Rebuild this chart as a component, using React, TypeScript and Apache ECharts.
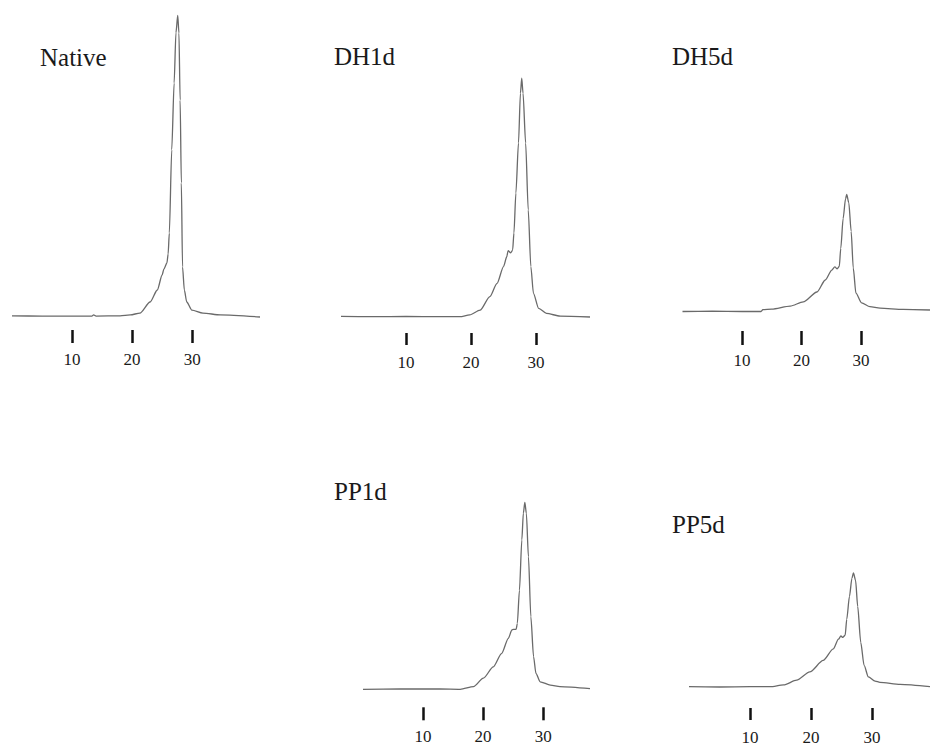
import React, { useEffect, useRef } from "react";
import * as echarts from "echarts";

// ---- data ----
const panelNames = ["Native", "DH1d", "DH5d", "PP1d", "PP5d"];
const tickValues = [10, 20, 30];

const nativeX = [0, 5, 10, 13.3, 13.6, 14, 18, 19.7, 21.3, 23.0, 24.2, 25.0, 25.3, 25.8, 26.0, 26.2, 26.6, 27.0, 27.3, 27.6, 27.8, 28.0, 28.2, 28.4, 28.7, 29.1, 29.95, 31.8, 34.7, 41.3];
const nativeY = [0.4, 0.3, 0.3, 0.3, 0.7, 0.3, 0.4, 0.7, 1.3, 5, 9, 14, 16, 18, 21, 28, 55.7, 78, 94.7, 100.5, 94.7, 72.3, 44.7, 16.7, 9, 5, 2.3, 1.3, 0.7, 0];

const dh1dX = [0, 5, 10, 15.2, 18.3, 19.8, 21.4, 22.9, 24.0, 25.0, 25.5, 25.7, 26.1, 26.4, 26.6, 26.9, 27.3, 27.6, 27.8, 28.0, 28.4, 28.8, 29.2, 29.6, 30.4, 31.6, 33.7, 38.3];
const dh1dY = [0.2, 0.1, 0.2, 0.1, 0.1, 0.7, 2.3, 6.8, 11.2, 16.8, 20.1, 22.1, 21.4, 22.3, 28, 41.3, 58, 74.6, 79.6, 74.6, 58, 35.7, 16.8, 7.9, 2.9, 1.2, 0.3, 0];

const dh5dX = [0, 5, 10, 13.2, 13.5, 15, 18.1, 20.3, 22.6, 24.0, 25.1, 25.6, 26.0, 26.35, 26.6, 27.0, 27.4, 27.6, 27.95, 28.35, 28.7, 29.15, 30.1, 31.5, 33.2, 37.1, 41.6];
const dh5dY = [0, 0.1, 0, 0, 0.6, 0.8, 1.8, 3.2, 6.5, 10.5, 13.8, 14.9, 14.2, 15.0, 21, 31, 37.5, 39, 36.3, 26.7, 14.5, 6.1, 2.9, 1.6, 1.1, 0.7, 0.5];

const pp1dX = [0, 6.2, 12.8, 16.2, 18.4, 20.05, 21.7, 23.1, 24.2, 24.8, 25.05, 25.5, 25.7, 26.05, 26.45, 26.7, 26.95, 27.2, 27.55, 27.95, 28.4, 28.8, 29.5, 31.2, 32.8, 37.8];
const pp1dY = [0, 0.1, 0.1, 0, 0.9, 3.7, 7.5, 12, 17, 19.8, 20, 20, 22, 33, 49.8, 58.7, 62.3, 58.7, 44.2, 24.2, 10.9, 5.3, 2.5, 1.4, 0.9, 0.2];

const pp5dX = [0, 5, 10, 13.3, 15.5, 17.65, 19.8, 22.0, 23.65, 24.5, 24.9, 25.2, 25.6, 25.85, 26.3, 26.7, 26.95, 27.3, 27.65, 28.15, 28.7, 29.4, 30.5, 31.3, 34.6, 39.5];
const pp5dY = [0.1, 0, 0.1, 0.1, 0.7, 2.3, 5.1, 9, 12.9, 16.2, 17.3, 16.8, 17.6, 22.9, 30.7, 36.8, 38.7, 36.2, 27.3, 15.1, 7.3, 3.4, 2, 1.6, 0.9, 0.1];

const seriesX = [nativeX, dh1dX, dh5dX, pp1dX, pp5dX];
const seriesY = [nativeY, dh1dY, dh5dY, pp1dY, pp5dY];

// ---- layout (pixels) ----
const layouts = [
  { left: 12, width: 248, xMax: 41.3, baseline: 317, offset: 13, tickLen: 13, margin: 21, tx: 40, ty: 57 },
  { left: 341, width: 249, xMax: 38.3, baseline: 317, offset: 16, tickLen: 12, margin: 21, tx: 334, ty: 56 },
  { left: 682.5, width: 247.5, xMax: 41.6, baseline: 311.5, offset: 19.5, tickLen: 14, margin: 21, tx: 672, ty: 56 },
  { left: 363, width: 227, xMax: 37.8, baseline: 689.3, offset: 18, tickLen: 13, margin: 21, tx: 334, ty: 491 },
  { left: 689, width: 241, xMax: 39.5, baseline: 692, offset: 21, tickLen: 12, margin: 21, tx: 672, ty: 524 },
];
const PLOT_H = 300;
const Y_MAX = 100;
const SERIF = "'Liberation Serif', 'Times New Roman', serif";

export default function App() {
  const ref = useRef<HTMLDivElement>(null);
  useEffect(() => {
    if (!ref.current) return;
    const chart = echarts.init(ref.current, null, { renderer: "svg" });
    const grid = layouts.map((l) => ({
      left: l.left,
      top: l.baseline - PLOT_H,
      width: l.width,
      height: PLOT_H,
      containLabel: false,
    }));
    const xAxis = layouts.map((l, i) => ({
      type: "value",
      gridIndex: i,
      min: 0,
      max: l.xMax,
      position: "bottom",
      offset: l.offset,
      axisLine: { show: false, onZero: false },
      splitLine: { show: false },
      axisTick: {
        show: true,
        customValues: tickValues,
        length: l.tickLen,
        lineStyle: { color: "#111", width: 2.5 },
      },
      axisLabel: {
        customValues: tickValues,
        margin: l.margin,
        fontFamily: SERIF,
        fontSize: 17,
        color: "#1a1a1a",
      },
    }));
    const yAxis = layouts.map((_, i) => ({
      type: "value",
      gridIndex: i,
      min: 0,
      max: Y_MAX,
      show: false,
    }));
    const series = seriesX.map((xs, i) => ({
      type: "line",
      name: panelNames[i],
      xAxisIndex: i,
      yAxisIndex: i,
      data: xs.map((x, j) => [x, seriesY[i][j]]),
      showSymbol: false,
      smooth: 0.25,
      smoothMonotone: "x",
      clip: false,
      lineStyle: { color: "#6a6a6a", width: 1.3 },
    }));
    const graphic = layouts.map((l, i) => ({
      type: "text",
      x: l.tx,
      y: l.ty,
      style: {
        text: panelNames[i],
        fontFamily: SERIF,
        fontSize: 25,
        fill: "#1a1a1a",
        verticalAlign: "middle",
        align: "left",
      },
    }));
    chart.setOption({
      animation: false,
      backgroundColor: "#ffffff",
      grid,
      xAxis,
      yAxis,
      series,
      graphic,
    });
    return () => chart.dispose();
  }, []);
  return (
    <div
      ref={ref}
      style={{ position: "absolute", left: 0, top: 0, width: 930, height: 746, background: "#fff" }}
    />
  );
}
